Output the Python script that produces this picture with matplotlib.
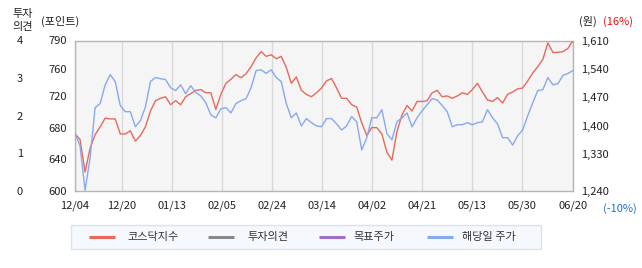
import matplotlib
matplotlib.use("Agg")
import matplotlib.pyplot as plt
from matplotlib.lines import Line2D
from matplotlib.patches import Rectangle

plt.rcParams['font.family'] = ['Noto Sans CJK KR', 'DejaVu Sans']

# ---------------- data ----------------
x_tick_labels = ['12/04', '12/20', '01/13', '02/05', '02/24', '03/14',
                 '04/02', '04/21', '05/13', '05/30', '06/20']
x_tick_pos = [0, 9.3, 19.3, 29.2, 39.2, 49.1, 59.0, 69.0, 78.9, 88.9, 99]

kosdaq = [672, 665, 624, 654, 671, 681, 692, 691, 691, 672,
          672, 676, 663, 670, 681, 701, 714, 717, 719, 709,
          714, 709, 719, 723, 727, 728, 724, 724, 703, 722,
          736, 741, 747, 743, 748, 757, 768, 776, 770, 772,
          767, 770, 756, 736, 744, 727, 722, 719, 724, 730,
          739, 742, 730, 717, 717, 709, 706, 686, 670, 680,
          680, 672, 649, 639, 675, 696, 708, 701, 713, 713,
          714, 724, 727, 719, 720, 717, 720, 724, 722, 728,
          736, 725, 715, 713, 718, 711, 722, 725, 729, 730,
          739, 749, 757, 766, 787, 775, 775, 776, 780, 790]

price = [1381, 1351, 1242, 1321, 1445, 1455, 1501, 1526, 1509, 1450,
         1435, 1435, 1398, 1413, 1447, 1509, 1519, 1516, 1514, 1494,
         1487, 1501, 1479, 1499, 1482, 1474, 1457, 1427, 1420, 1442,
         1445, 1432, 1455, 1462, 1467, 1494, 1536, 1538, 1529, 1538,
         1519, 1509, 1455, 1420, 1432, 1400, 1418, 1408, 1400, 1398,
         1418, 1418, 1405, 1390, 1400, 1423, 1410, 1341, 1371, 1420,
         1420, 1440, 1381, 1366, 1410, 1420, 1432, 1398, 1420, 1437,
         1452, 1467, 1464, 1450, 1435, 1398, 1403, 1403, 1408, 1403,
         1408, 1410, 1440, 1420, 1405, 1371, 1371, 1353, 1376, 1390,
         1425, 1457, 1487, 1489, 1519, 1501, 1504, 1524, 1529, 1536]

opinion = []        # 투자의견 (no data shown)
target_price = []   # 목표주가 (no data shown)

kosdaq_ticks = [600, 640, 680, 720, 754, 790]
kosdaq_tick_labels = ['600', '640', '680', '720', '760', '790']
price_ticks = [1240, 1330, 1400, 1470, 1540, 1610]
price_tick_labels = ['1,240', '1,330', '1,400', '1,470', '1,540', '1,610']
opinion_ticks = [0, 1, 2, 3, 4]

legend_labels = ['코스닥지수', '투자의견', '목표주가', '해당일 주가']

# ---------------- style ----------------
RED = '#e8695b'
BLUE = '#88a9ee'
GRAY = '#888888'
PURPLE = '#a06fcc'
W, H = 642, 268

fig = plt.figure(figsize=(W / 100, H / 100), dpi=100)
ax = fig.add_axes([75 / W, (H - 191) / H, 498 / W, 150.5 / H])
ax.set_facecolor('#f5f5f5')
for s in ax.spines.values():
    s.set_color('#b5b5b5')
    s.set_linewidth(1.0)

idx = list(range(len(kosdaq)))
l_red, = ax.plot(idx, kosdaq, color=RED, lw=1.0, zorder=3)
ax.set_xlim(0, len(kosdaq) - 1)
ax.set_ylim(600, 790)
ax.set_xticks(x_tick_pos)
ax.set_xticklabels(x_tick_labels)
ax.set_yticks(kosdaq_ticks)
ax.set_yticklabels(kosdaq_tick_labels)
ax.tick_params(axis='x', length=0, pad=6.5, labelsize=8, colors='#222222')
ax.tick_params(axis='y', length=0, pad=5.8, labelsize=8, colors='#222222')
ax.grid(axis='x', color='#d9d9d9', lw=1.0)
ax.set_axisbelow(True)

ax2 = ax.twinx()
l_blue, = ax2.plot(idx, price, color=BLUE, lw=1.0, zorder=3)
ax2.set_ylim(1240, 1610)
ax2.set_yticks(price_ticks)
ax2.set_yticklabels(price_tick_labels)
ax2.tick_params(axis='y', length=0, pad=5.5, labelsize=8, colors='#222222')
for s in ax2.spines.values():
    s.set_visible(False)

ax3 = ax.twinx()
ax3.set_ylim(0, 4)
ax3.yaxis.set_ticks_position('left')
ax3.set_yticks(opinion_ticks)
ax3.set_yticklabels([str(v) for v in opinion_ticks])
ax3.tick_params(axis='y', length=0, pad=37.5, labelsize=8, colors='#222222')
for s in ax3.spines.values():
    s.set_visible(False)
l_gray, = ax3.plot(opinion, opinion, color=GRAY, lw=2)
l_purple, = ax2.plot(target_price, target_price, color=PURPLE, lw=2)

# header texts
def ft(x, y, s, **kw):
    fig.text(x / W, 1 - y / H, s, fontsize=8, va='center', **kw)

ft(23, 13.5, '투자', ha='center', color='#222222')
ft(23, 27, '의견', ha='center', color='#222222')
ft(41, 21.5, '(포인트)', ha='left', color='#222222')
ft(597, 21.5, '(원)', ha='right', color='#222222')
ft(603, 21.5, '(16%)', ha='left', color='#ee1111')
ft(603, 209, '(-10%)', ha='left', color='#1a6fe0')

# legend (drawn in figure pixel layout)
box = Rectangle((71 / W, 1 - 249 / H), 470 / W, 24 / H, transform=fig.transFigure,
                facecolor='#f5f9fd', edgecolor='#d7e3ee', lw=1.0)
fig.patches.append(box)
legend_colors = [RED, GRAY, PURPLE, BLUE]
line_starts = [89, 208, 319, 427]
text_starts = [127, 247, 353, 462]
ly = 1 - 237 / H
for c, lx, tx, lab in zip(legend_colors, line_starts, text_starts, legend_labels):
    fig.add_artist(Line2D([lx / W, (lx + 26) / W], [ly, ly], transform=fig.transFigure,
                          color=c, lw=2.2, solid_capstyle='butt'))
    fig.text(tx / W, ly, lab, fontsize=8, va='center', ha='left', color='#333333')

fig.savefig('out.png', dpi=100)
